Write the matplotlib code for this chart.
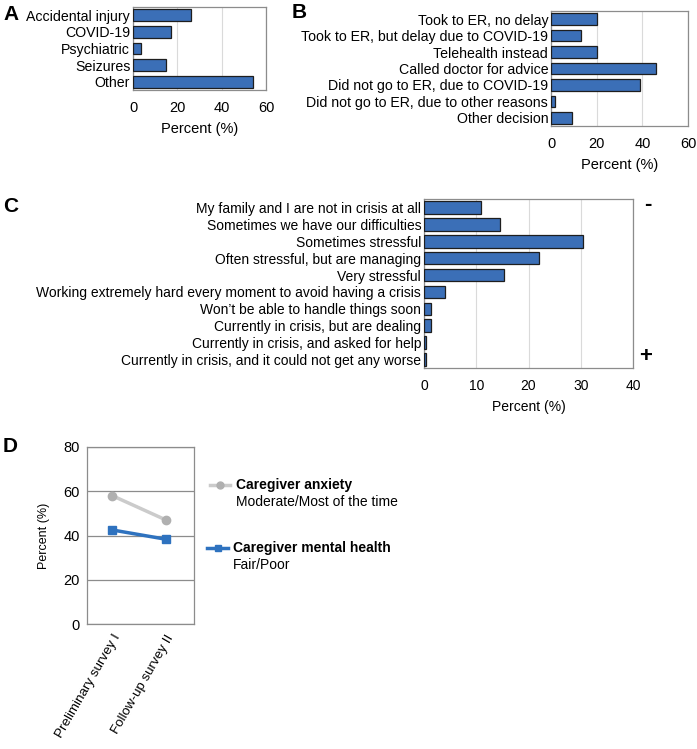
import matplotlib
matplotlib.use('Agg')
import matplotlib.pyplot as plt
from matplotlib.lines import Line2D

plt.rcParams['font.family'] = ['Liberation Sans', 'DejaVu Sans']

# Panel A: reasons for ER visit
a_labels = ['Accidental injury', 'COVID-19', 'Psychiatric', 'Seizures', 'Other']
a_values = [26, 17, 3.6, 15, 54]

# Panel B: decisions
b_labels = ['Took to ER, no delay', 'Took to ER, but delay due to COVID-19',
            'Telehealth instead', 'Called doctor for advice',
            'Did not go to ER, due to COVID-19',
            'Did not go to ER, due to other reasons', 'Other decision']
b_values = [20.3, 13.1, 20.3, 46.1, 39.0, 1.9, 9.4]

# Panel C: crisis scale
c_labels = ['My family and I are not in crisis at all',
            'Sometimes we have our difficulties',
            'Sometimes stressful',
            'Often stressful, but are managing',
            'Very stressful',
            'Working extremely hard every moment to avoid having a crisis',
            'Won\u2019t be able to handle things soon',
            'Currently in crisis, but are dealing',
            'Currently in crisis, and asked for help',
            'Currently in crisis, and it could not get any worse']
c_values = [11, 14.6, 30.4, 22, 15.3, 4, 1.4, 1.4, 0.3, 0.3]

# Panel D: surveys
d_surveys = ['Preliminary survey I', 'Follow-up survey II']
d_anxiety = [58, 47]
d_mental = [42.5, 38.3]

W, H = 697, 749
fig = plt.figure(figsize=(W / 100, H / 100), dpi=100)

def px_axes(l, t, r, b):
    return fig.add_axes([l / W, 1 - b / H, (r - l) / W, (b - t) / H])

bar_col = '#3b6fb7'
edge_col = '#1e1e1e'
spine_col = '#8c8c8c'
grid_col = '#dadada'


def bar_panel(ax, labels, values, xmax, ticks, fs, xfs, hgt=0.7):
    y = list(range(len(labels)))
    ax.barh(y, values, height=hgt, color=bar_col, edgecolor=edge_col,
            linewidth=0.9, zorder=3)
    ax.set_ylim(len(labels) - 0.5, -0.5)
    ax.set_xlim(0, xmax)
    ax.set_xticks(ticks)
    ax.set_yticks(y)
    ax.set_yticklabels(labels, fontsize=fs)
    ax.tick_params(length=0, pad=2)
    ax.tick_params(axis='x', pad=8, labelsize=xfs)
    ax.grid(axis='x', color=grid_col, linewidth=0.8, zorder=0)
    for s in ax.spines.values():
        s.set_color(spine_col)
        s.set_linewidth(0.9)
    ax.set_xlabel('Percent (%)', fontsize=xfs, labelpad=5)


# A
axA = px_axes(133, 7, 266, 90)
bar_panel(axA, a_labels, a_values, 60, [0, 20, 40, 60], 10.2, 10.5)

# B
axB = px_axes(551, 11, 688, 126)
bar_panel(axB, b_labels, b_values, 60, [0, 20, 40, 60], 10.2, 10.5)

# C
axC = px_axes(424, 199, 633, 368)
bar_panel(axC, c_labels, c_values, 40, [0, 10, 20, 30, 40], 10, 10,
          hgt=0.75)
fig.text(648 / W, 1 - 204 / H, '-', fontsize=16, fontweight='bold',
         ha='center', va='center')
fig.text(646 / W, 1 - 357 / H, '+', fontsize=16, fontweight='bold',
         ha='center', va='center')

# D
axD = px_axes(87, 447, 194, 624)
x = [0, 1]
axD.plot(x, d_anxiety, color='#cbcbcb', linewidth=2.5, marker='o',
         markersize=6, markerfacecolor='#b0b0b0', markeredgecolor='#b0b0b0',
         zorder=3)
axD.plot(x, d_mental, color='#2e72bf', linewidth=2.5, marker='s',
         markersize=6, zorder=3)
axD.set_xlim(-0.47, 1.52)
axD.set_ylim(0, 80)
axD.set_yticks([0, 20, 40, 60, 80])
axD.set_xticks(x)
axD.set_xticklabels(d_surveys, rotation=60, ha='right', rotation_mode='anchor',
                    fontsize=9.6)
axD.tick_params(axis='y', length=0, labelsize=10.5, pad=5)
axD.tick_params(axis='x', length=0, pad=6)
axD.grid(axis='y', color=spine_col, linewidth=0.9, zorder=0)
for s in axD.spines.values():
    s.set_color(spine_col)
    s.set_linewidth(0.9)
axD.set_ylabel('Percent (%)', fontsize=9, labelpad=10)

# D legend
fig.add_artist(Line2D([210 / W, 220 / W, 230 / W], [1 - 485 / H] * 3,
                      color='#cbcbcb', linewidth=2.5, marker='o', markersize=5,
                      markevery=[1], markerfacecolor='#b0b0b0',
                      markeredgecolor='#b0b0b0'))
fig.text(236 / W, 1 - 485 / H, 'Caregiver anxiety', fontsize=10,
         fontweight='bold', va='center')
fig.text(236 / W, 1 - 502 / H, 'Moderate/Most of the time', fontsize=10,
         va='center')
fig.add_artist(Line2D([207 / W, 217.5 / W, 228 / W], [1 - 548 / H] * 3,
                      color='#2e72bf', linewidth=2.5, marker='s', markersize=5,
                      markevery=[1]))
fig.text(233 / W, 1 - 548 / H, 'Caregiver mental health', fontsize=10,
         fontweight='bold', va='center')
fig.text(233 / W, 1 - 565 / H, 'Fair/Poor', fontsize=10, va='center')

# panel letters
for lbl, px, py in [('A', 3, 15), ('B', 292, 12), ('C', 3, 206), ('D', 3, 446)]:
    fig.text(px / W, 1 - py / H, lbl, fontsize=15, fontweight='bold',
             va='center', ha='left')

fig.savefig('out.png', dpi=100)
